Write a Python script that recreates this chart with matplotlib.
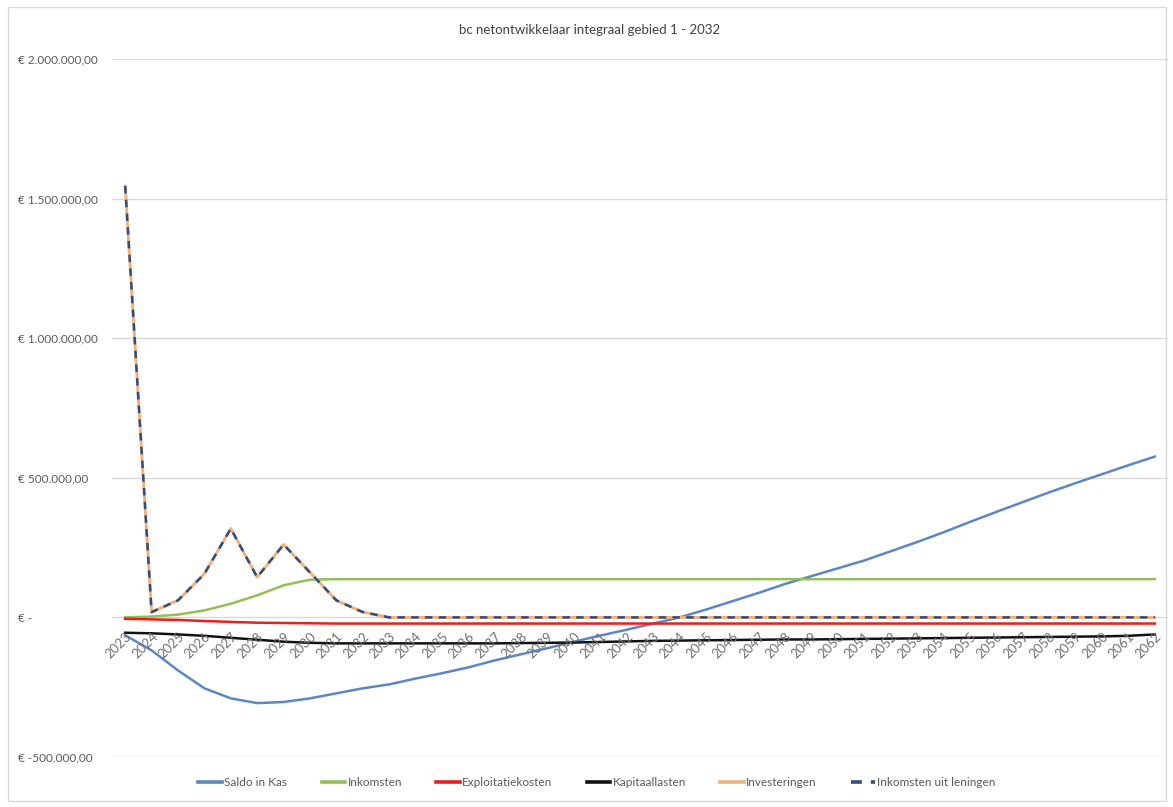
import matplotlib
matplotlib.use('Agg')

import matplotlib.pyplot as plt
import matplotlib.transforms as mtransforms
from matplotlib.patches import Rectangle

plt.rcParams['font.family'] = ['Lato', 'DejaVu Sans']

years = list(range(2023, 2063))

saldo_in_kas = [-64000, -118000, -190000, -254000, -290000, -307000, -303000, -290000,
                -272000, -254000, -240000, -219000, -200000, -179000, -154000, -132000,
                -110000, -87000, -65000, -44000, -22000, 0, 28000, 58000,
                88000, 120000, 148000, 176000, 204000, 237000, 270000, 305000,
                342000, 378000, 413000, 448000, 481000, 513000, 545000, 576000]

inkomsten = [0, 3000, 10000, 25000, 49000, 79000, 115000, 135000,
             137000, 137000, 137000, 137000, 137000, 137000, 137000, 137000,
             137000, 137000, 137000, 137000, 137000, 137000, 137000, 137000,
             137000, 137000, 137000, 137000, 137000, 137000, 137000, 137000,
             137000, 137000, 137000, 137000, 137000, 137000, 137000, 137000]

exploitatiekosten = [-5000, -7000, -9000, -13000, -16000, -19000, -20000, -21000,
                     -22000, -22000, -22000, -22000, -22000, -22000, -22000, -22000,
                     -22000, -22000, -22000, -22000, -22000, -22000, -22000, -22000,
                     -22000, -22000, -22000, -22000, -22000, -22000, -22000, -22000,
                     -22000, -22000, -22000, -22000, -22000, -22000, -22000, -22000]

kapitaallasten = [-55000, -57000, -61000, -66000, -73000, -80000, -87000, -91000,
                  -93000, -93000, -93000, -93000, -93000, -93000, -93000, -92000,
                  -91000, -90000, -88000, -86000, -84000, -83000, -82000, -81000,
                  -80000, -79000, -79000, -78000, -77000, -76000, -75000, -74000,
                  -73000, -72000, -71000, -70000, -69000, -68000, -66000, -61000]

investeringen = [1545000, 19000, 61000, 156000, 318000, 144000, 261000, 161000,
                 61000, 19000, 0, 0, 0, 0, 0, 0,
                 0, 0, 0, 0, 0, 0, 0, 0,
                 0, 0, 0, 0, 0, 0, 0, 0,
                 0, 0, 0, 0, 0, 0, 0, 0]

inkomsten_uit_leningen = [1545000, 19000, 61000, 156000, 318000, 144000, 261000, 161000,
                          61000, 19000, 0, 0, 0, 0, 0, 0,
                          0, 0, 0, 0, 0, 0, 0, 0,
                          0, 0, 0, 0, 0, 0, 0, 0,
                          0, 0, 0, 0, 0, 0, 0, 0]

y_ticks = [-500000, 0, 500000, 1000000, 1500000, 2000000]
y_labels = ['€ -500.000,00', '€ -', '€ 500.000,00', '€ 1.000.000,00',
            '€ 1.500.000,00', '€ 2.000.000,00']

W, H = 1173, 807
fig = plt.figure(figsize=(W / 100, H / 100), dpi=100)
ax = fig.add_axes([112 / W, 1 - 757 / H, (1168 - 112) / W, (757 - 59) / H])

# chart border
fig.patches.append(Rectangle((8 / W, 6 / H), (1166 - 8) / W, (800 - 6) / H,
                             transform=fig.transFigure, fill=False,
                             edgecolor='#d9d9d9', linewidth=1))

x = list(range(len(years)))
lw = 1.8
ax.plot(x, saldo_in_kas, color='#5b87c5', lw=lw, label='Saldo in Kas')
ax.plot(x, inkomsten, color='#93bf55', lw=lw, label='Inkomsten')
ax.plot(x, exploitatiekosten, color='#ee1c1c', lw=lw, label='Exploitatiekosten')
ax.plot(x, kapitaallasten, color='#111111', lw=lw, label='Kapitaallasten')
ax.plot(x, investeringen, color='#f4b07a', lw=lw + 0.3, label='Investeringen')
ax.plot(x, inkomsten_uit_leningen, color='#2f4d7e', lw=lw, ls=(0, (3, 2.5)),
        label='Inkomsten uit leningen')

ax.set_xlim(-0.5, len(years) - 0.5)
ax.set_ylim(-500000, 2000000)
ax.set_yticks(y_ticks)
ax.set_yticklabels(y_labels, ha='left', fontsize=8.5, color='#595959')
ax.tick_params(axis='y', length=0, pad=(112 - 18) * 0.72)
ax.set_xticks([])
ax.grid(axis='y', color='#d9d9d9', lw=1)
ax.set_axisbelow(True)
for s in ax.spines.values():
    s.set_visible(False)

# year labels next to the horizontal axis (at y = 0)
off = mtransforms.ScaledTranslation(0 / 100, -13 / 100, fig.dpi_scale_trans)
for i, yr in enumerate(years):
    ax.text(i, 0, str(yr), rotation=45, ha='right', va='top', rotation_mode='anchor',
            fontsize=9.5, color='#707070', transform=ax.transData + off)

fig.text(590 / W, 1 - 30 / H, 'bc netontwikkelaar integraal gebied 1 - 2032',
         ha='center', va='center', fontsize=9.5, color='#404040')

leg = fig.legend(loc='center', bbox_to_anchor=(597 / W, 1 - 783 / H), ncol=6,
                 frameon=False, fontsize=8.5, labelcolor='#595959', handlelength=2.0,
                 handletextpad=0.2, columnspacing=2.9)
for line in leg.get_lines():
    line.set_linewidth(2.6)

fig.savefig('out.png', dpi=100, facecolor='white')
